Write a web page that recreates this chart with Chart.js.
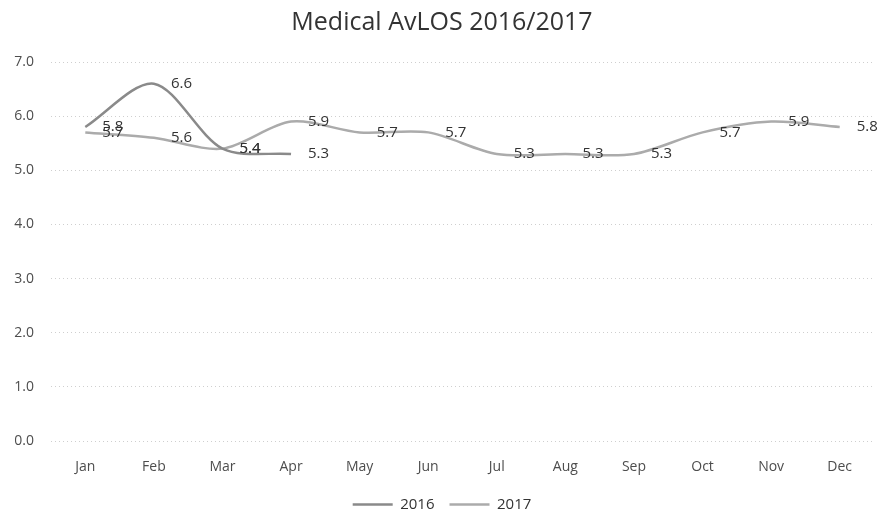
<!DOCTYPE html>
<html>
<head>
<meta charset="utf-8">
<title>Medical AvLOS 2016/2017</title>
<script src="https://cdn.jsdelivr.net/npm/chart.js@4"></script>
<style>
  html, body { margin: 0; padding: 0; background: #fff; }
  #wrap { width: 883px; height: 516px; }
</style>
</head>
<body>
<div id="wrap"><canvas id="myChart" width="883" height="516"></canvas></div>
<script>
// Average length of stay per month
const months = ["Jan", "Feb", "Mar", "Apr", "May", "Jun", "Jul", "Aug", "Sep", "Oct", "Nov", "Dec"];
const los2016 = [5.8, 6.6, 5.4, 5.3, null, null, null, null, null, null, null, null];
const los2017 = [5.7, 5.6, 5.4, 5.9, 5.7, 5.7, 5.3, 5.3, 5.3, 5.7, 5.9, 5.8];
const yTicks = [0, 1, 2, 3, 4, 5, 6, 7];

const fontFamily = "'Open Sans', 'Liberation Sans', sans-serif";

// value labels to the right of each point
const pointLabels = {
  id: "pointLabels",
  afterDatasetsDraw(chart) {
    const c = chart.ctx;
    c.save();
    c.font = "15px " + fontFamily;
    c.fillStyle = "#333333";
    c.textAlign = "left";
    c.textBaseline = "middle";
    chart.data.datasets.forEach((ds, i) => {
      const meta = chart.getDatasetMeta(i);
      meta.data.forEach((pt, j) => {
        const v = ds.data[j];
        if (v == null) return;
        c.fillText(v.toFixed(1), pt.x + 17, pt.y);
      });
    });
    c.restore();
  }
};

let data = {
  labels: months,
  datasets: [
    {
      label: "2016",
      data: los2016,
      borderColor: "#8a8a8a",
      backgroundColor: "#8a8a8a",
      borderWidth: 2.5,
      pointRadius: 0,
      tension: 0.3
    },
    {
      label: "2017",
      data: los2017,
      borderColor: "#ababab",
      backgroundColor: "#ababab",
      borderWidth: 2.5,
      pointRadius: 0,
      tension: 0.3
    }
  ]
};

let options = {
  responsive: false,
  animation: false,
  layout: { padding: { left: 10, right: 9, top: 0, bottom: 0 } },
  plugins: {
    title: {
      display: true,
      text: "Medical AvLOS 2016/2017",
      color: "#333333",
      font: { family: fontFamily, size: 25, weight: "normal" },
      padding: { top: 8, bottom: 24 }
    },
    legend: {
      display: true,
      position: "bottom",
      maxHeight: 34,
      labels: {
        color: "#333333",
        font: { family: fontFamily, size: 15 },
        usePointStyle: true,
        pointStyle: "line",
        pointStyleWidth: 40,
        padding: 15
      }
    },
    tooltip: { enabled: false }
  },
  scales: {
    x: {
      offset: true,
      grid: { display: false },
      border: { display: false },
      ticks: {
        color: "#4d4d4d",
        font: { family: fontFamily, size: 14 },
        padding: 10,
        maxRotation: 0
      },
      afterFit(scale) { scale.height = 41; }
    },
    y: {
      min: 0,
      max: 7,
      afterBuildTicks(scale) { scale.ticks = yTicks.map(v => ({ value: v })); },
      grid: {
        color: "#cfcfcf",
        drawTicks: false
      },
      border: { display: false, dash: [1, 3] },
      ticks: {
        color: "#4d4d4d",
        font: { family: fontFamily, size: 14 },
        padding: 17,
        callback: v => v.toFixed(1)
      },
      afterFit(scale) { scale.width = 41; }
    }
  }
};

let ctx = document.getElementById("myChart").getContext("2d");

let myChart = new Chart(ctx, {
  type: "line",
  data: data,
  options: options,
  plugins: [pointLabels]
});
</script>
</body>
</html>
